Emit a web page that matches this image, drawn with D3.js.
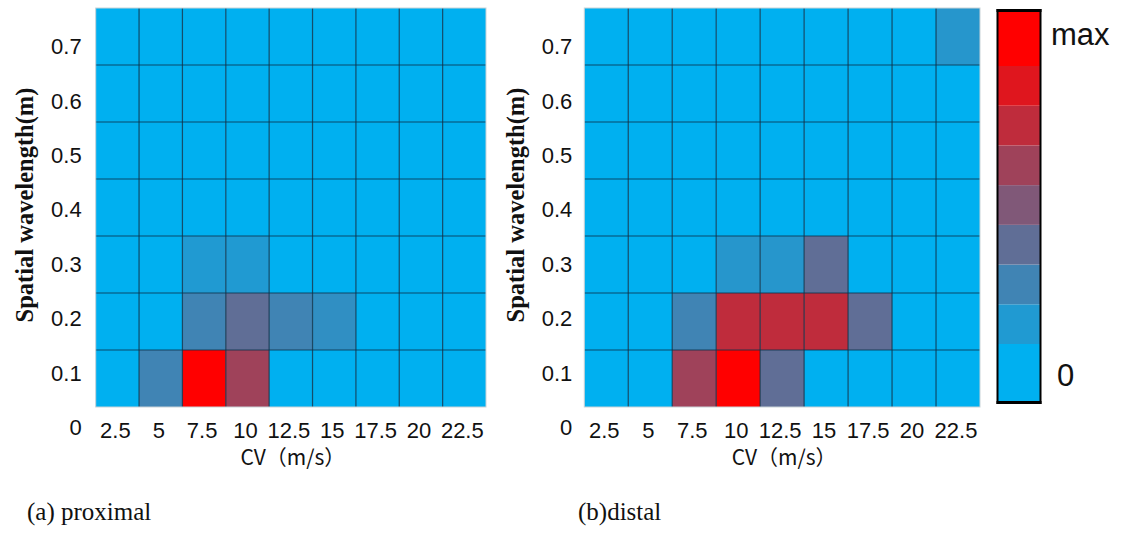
<!DOCTYPE html>
<html>
<head>
<meta charset="utf-8">
<script src="https://cdn.jsdelivr.net/npm/d3@7"></script>
<style>
  html, body { margin: 0; padding: 0; background: #fff; }
  svg { display: block; }
</style>
</head>
<body>
<svg id="fig" width="1121" height="537"></svg>
<script>
// Conduction velocity columns and spatial wavelength rows
const cvValues = [2.5, 5, 7.5, 10, 12.5, 15, 17.5, 20, 22.5];
const wavelengths = [0.1, 0.2, 0.3, 0.4, 0.5, 0.6, 0.7];
const yTickValues = [0, 0.1, 0.2, 0.3, 0.4, 0.5, 0.6, 0.7];

// Intensity levels (0 … 8 = max), one row per wavelength, bottom row first
const proximal = [
  [0, 2, 8, 5, 0, 0, 0, 0, 0],   // 0.1
  [0, 0, 2, 3, 2, 1.5, 0, 0, 0], // 0.2
  [0, 0, 1, 1, 0, 0, 0, 0, 0],   // 0.3
  [0, 0, 0, 0, 0, 0, 0, 0, 0],   // 0.4
  [0, 0, 0, 0, 0, 0, 0, 0, 0],   // 0.5
  [0, 0, 0, 0, 0, 0, 0, 0, 0],   // 0.6
  [0, 0, 0, 0, 0, 0, 0, 0, 0]    // 0.7
];
const distal = [
  [0, 0, 5, 8, 3, 0, 0, 0, 0],   // 0.1
  [0, 0, 2, 6, 6, 6, 3, 0, 0],   // 0.2
  [0, 0, 0, 1.2, 1.2, 3, 0, 0, 0], // 0.3
  [0, 0, 0, 0, 0, 0, 0, 0, 0],   // 0.4
  [0, 0, 0, 0, 0, 0, 0, 0, 0],   // 0.5
  [0, 0, 0, 0, 0, 0, 0, 0, 0],   // 0.6
  [0, 0, 0, 0, 0, 0, 0, 0, 1.2]  // 0.7
];
const legendLevels = [0, 1, 2, 3, 4, 5, 6, 7, 8];
const legendLabels = ["0", "max"];
const captions = ["(a) proximal", "(b)distal"];

const svg = d3.select("#fig");
const maxLevel = 8;
const color = v => d3.interpolateRgb("#00B0F0", "#FF0000")(v / maxLevel);

function heatmap(data, x0, x1, caption, opt) {
  const top = 8, bottom = 407;
  const g = svg.append("g");
  const x = d3.scaleBand().domain(cvValues).range([x0, x1]);
  const y = d3.scaleBand().domain(wavelengths).range([bottom, top]);
  const yLabel = d3.scaleLinear().domain([0, 0.7]).range([427, 46.5]);

  const cells = [];
  data.forEach((row, i) => row.forEach((v, j) =>
    cells.push({ cv: cvValues[j], w: wavelengths[i], v })));

  g.selectAll("rect.cell").data(cells).enter().append("rect")
    .attr("class", "cell")
    .attr("x", d => x(d.cv))
    .attr("y", d => y(d.w))
    .attr("width", x.bandwidth())
    .attr("height", y.bandwidth())
    .attr("fill", d => color(d.v));

  // inner grid lines
  g.selectAll("line.vg").data(cvValues.slice(1)).enter().append("line")
    .attr("x1", d => x(d)).attr("x2", d => x(d))
    .attr("y1", top).attr("y2", bottom)
    .attr("stroke", "#0b3048").attr("stroke-opacity", 0.8).attr("stroke-width", 1.2);
  g.selectAll("line.hg").data(wavelengths.slice(1)).enter().append("line")
    .attr("y1", d => y(d) + y.bandwidth()).attr("y2", d => y(d) + y.bandwidth())
    .attr("x1", x0).attr("x2", x1)
    .attr("stroke", "#0b3048").attr("stroke-opacity", 0.8).attr("stroke-width", 1.2);

  // thin outer frame
  g.append("rect").attr("x", x0).attr("y", top)
    .attr("width", x1 - x0).attr("height", bottom - top)
    .attr("fill", "none").attr("stroke", "#c9d3d8").attr("stroke-width", 1);

  // x tick labels
  g.selectAll("text.xt").data(cvValues).enter().append("text")
    .attr("x", d => x(d) + x.bandwidth() / 2 - 2)
    .attr("y", 438)
    .attr("text-anchor", "middle")
    .attr("font-family", "Liberation Sans, Arial, sans-serif")
    .attr("font-size", 22).attr("fill", "#111")
    .text(d => d);

  // y tick labels
  g.selectAll("text.yt").data(yTickValues).enter().append("text")
    .attr("x", x0 - opt.tickGap)
    .attr("y", d => yLabel(d))
    .attr("dy", "0.36em")
    .attr("text-anchor", "end")
    .attr("font-family", "Liberation Sans, Arial, sans-serif")
    .attr("font-size", 22).attr("fill", "#111")
    .text(d => d);

  // x axis title
  g.append("text")
    .attr("x", (x0 + x1) / 2 + 2).attr("y", 465)
    .attr("text-anchor", "middle")
    .attr("font-family", "Noto Sans CJK JP, sans-serif")
    .attr("font-size", 21).attr("fill", "#111")
    .text("CV（m/s）");

  // y axis title
  g.append("text")
    .attr("transform", `translate(${x0 - opt.titleGap},205) rotate(-90)`)
    .attr("text-anchor", "middle")
    .attr("font-family", "Liberation Serif, Times New Roman, serif")
    .attr("font-weight", "bold")
    .attr("font-size", 24.5).attr("fill", "#111")
    .text("Spatial wavelength(m)");

  // panel caption
  g.append("text")
    .attr("x", opt.captionX).attr("y", 520)
    .attr("font-family", "Liberation Serif, Times New Roman, serif")
    .attr("font-size", 25).attr("fill", "#111")
    .text(caption);
}

heatmap(proximal, 95.7, 486, captions[0], { tickGap: 14, titleGap: 63, captionX: 27 });
heatmap(distal, 584.3, 980, captions[1], { tickGap: 12, titleGap: 60, captionX: 578 });

// stepped colour bar
const cb = { x: 997.5, w: 43, top: 10, bottom: 403 };
const cbScale = d3.scaleLinear().domain([0.5, 7.5]).range([344, 66]);
const bandTop = k => k === maxLevel ? cb.top : cbScale(k + 0.5);
const bandBottom = k => k === 0 ? cb.bottom : cbScale(k - 0.5);
svg.append("g").selectAll("rect").data(legendLevels).enter().append("rect")
  .attr("x", cb.x).attr("width", cb.w)
  .attr("y", d => bandTop(d))
  .attr("height", d => bandBottom(d) - bandTop(d))
  .attr("fill", d => color(d));
svg.append("rect").attr("x", cb.x).attr("y", cb.top)
  .attr("width", cb.w).attr("height", cb.bottom - cb.top)
  .attr("fill", "none").attr("stroke", "#000").attr("stroke-width", 2);
svg.append("line").attr("x1", cb.x - 1).attr("x2", cb.x + cb.w + 1)
  .attr("y1", cb.top + 0.5).attr("y2", cb.top + 0.5)
  .attr("stroke", "#000").attr("stroke-width", 3);
svg.append("line").attr("x1", cb.x - 1).attr("x2", cb.x + cb.w + 1)
  .attr("y1", cb.bottom - 0.5).attr("y2", cb.bottom - 0.5)
  .attr("stroke", "#000").attr("stroke-width", 3);

svg.append("text").attr("x", 1057).attr("y", 375).attr("dy", "0.36em")
  .attr("font-family", "Liberation Sans, Arial, sans-serif")
  .attr("font-size", 31).attr("fill", "#111").text(legendLabels[0]);
svg.append("text").attr("x", 1051).attr("y", 45)
  .attr("font-family", "Liberation Sans, Arial, sans-serif")
  .attr("font-size", 31).attr("fill", "#111").text(legendLabels[1]);
</script>
</body>
</html>
